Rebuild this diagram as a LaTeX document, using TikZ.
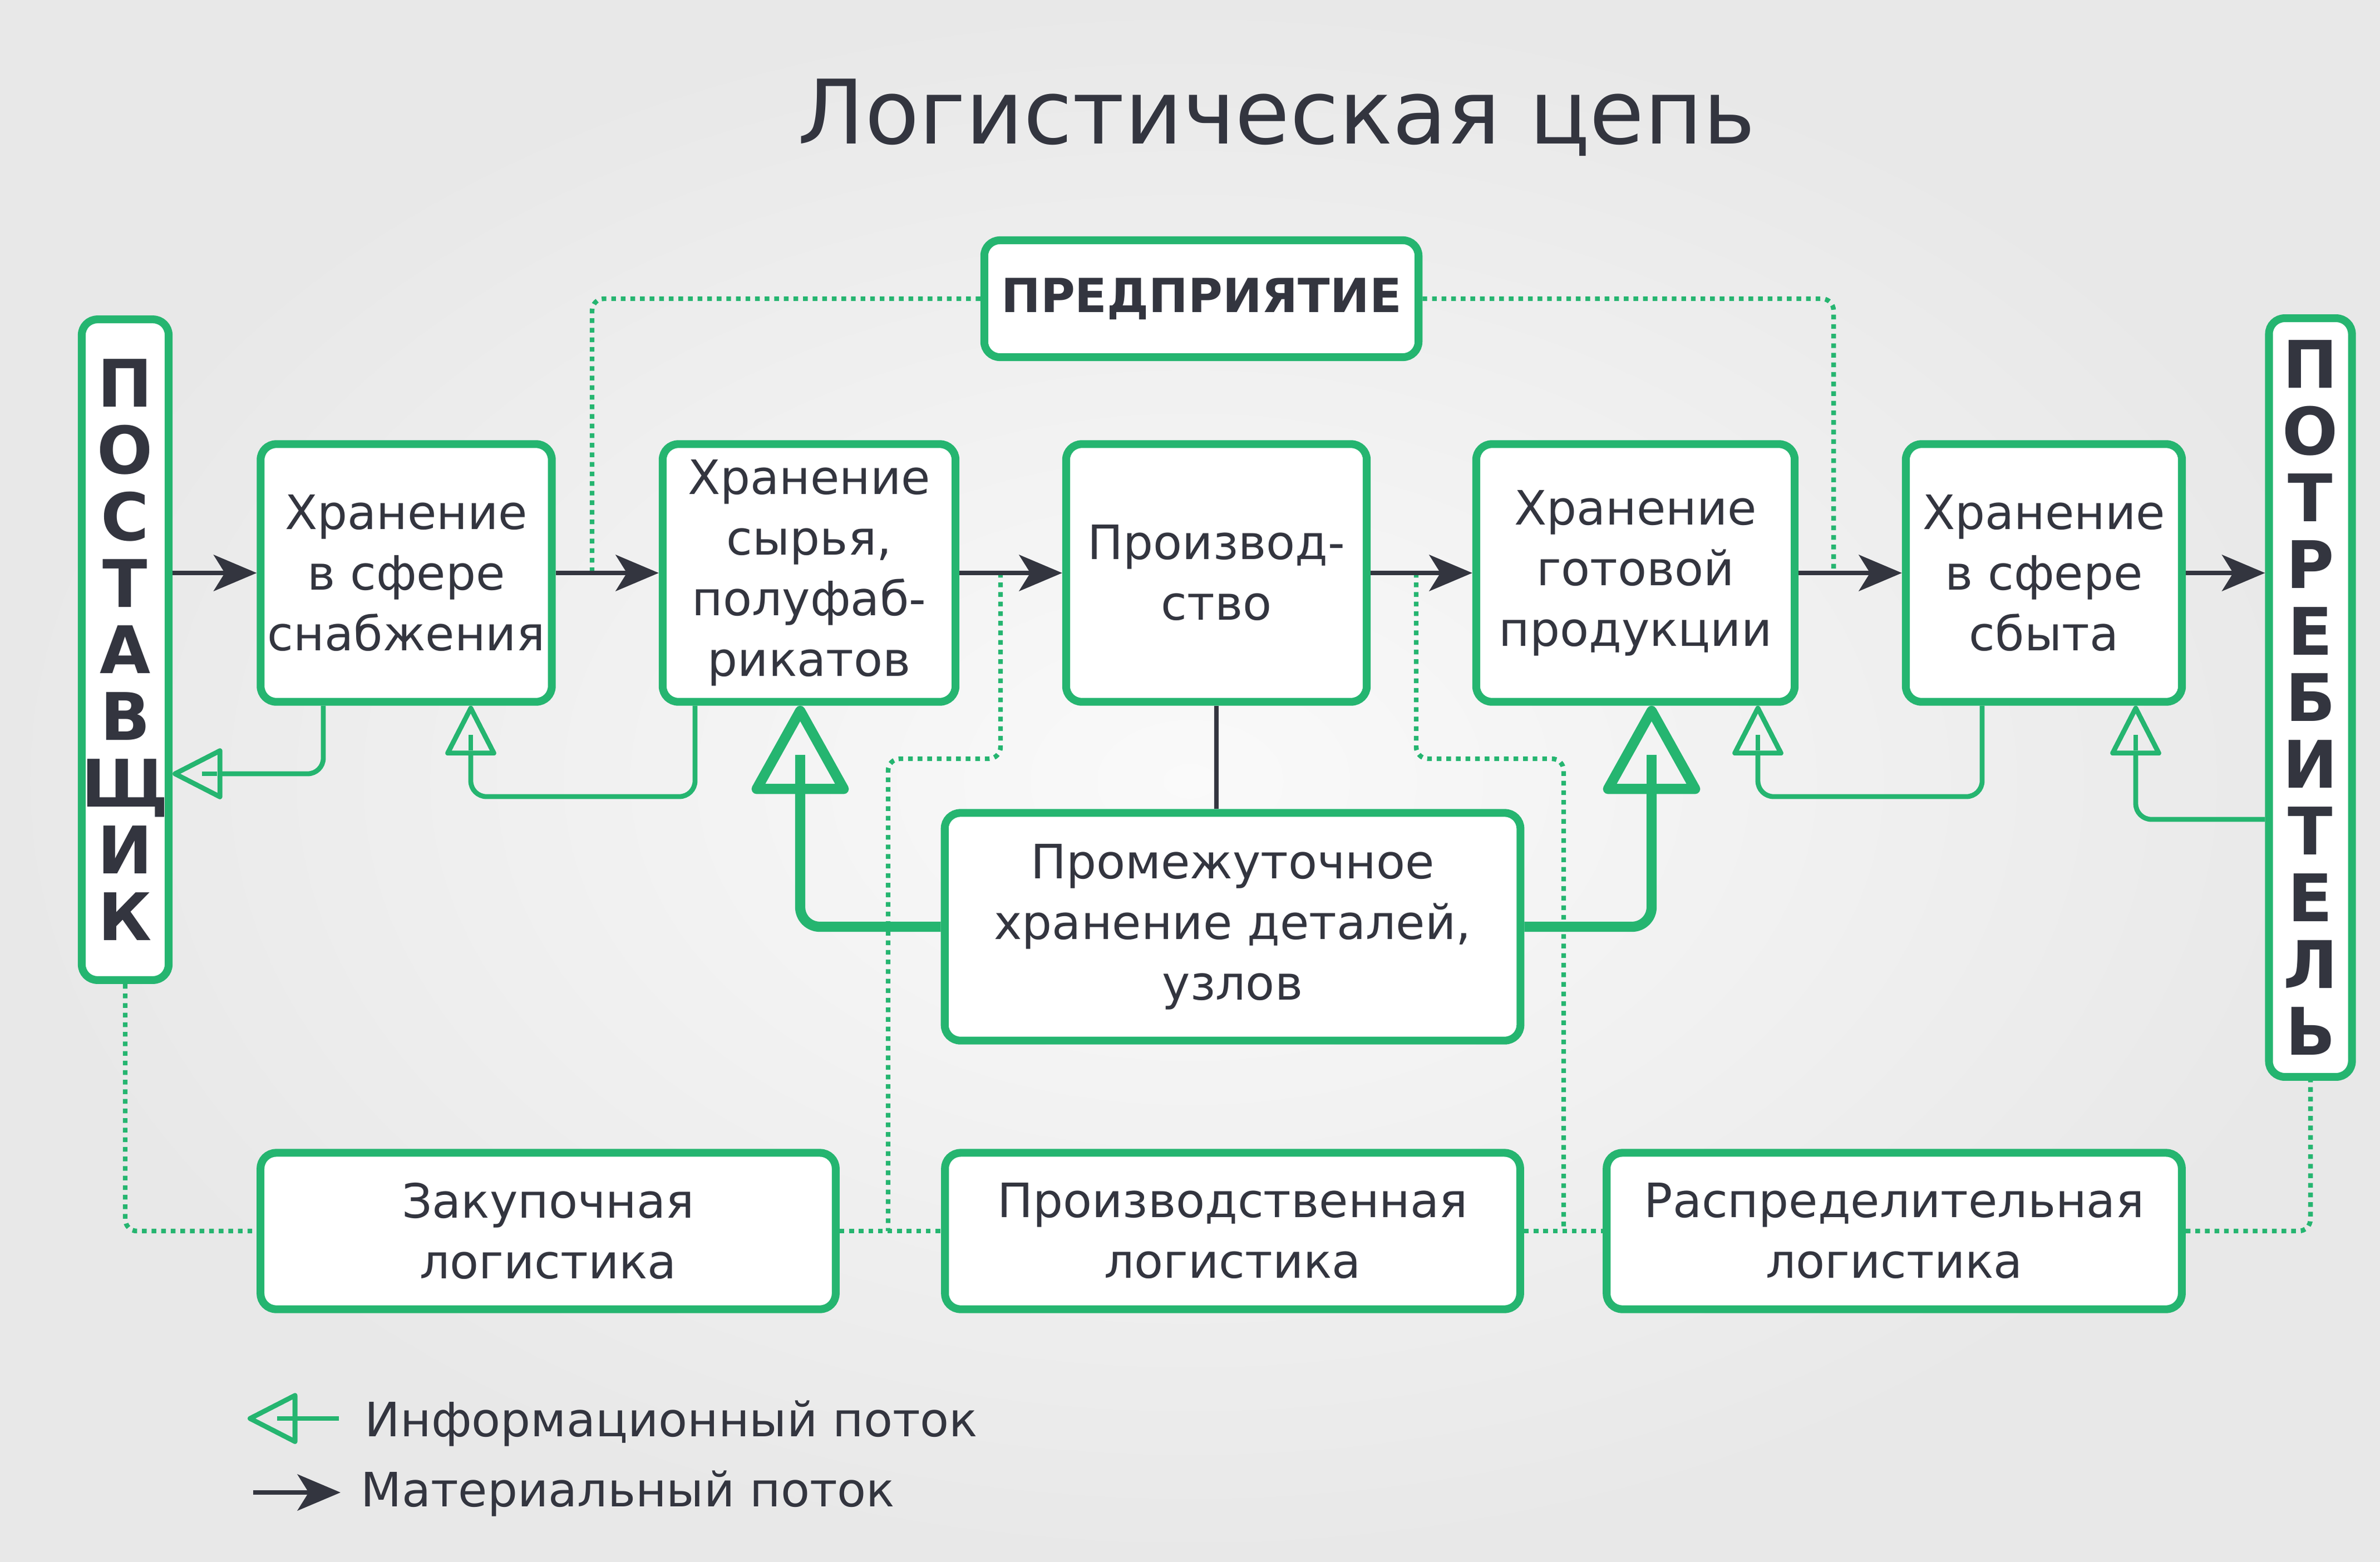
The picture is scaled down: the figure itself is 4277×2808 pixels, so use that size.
\documentclass[tikz,border=0pt]{standalone}
\usepackage{fontspec}
\setmainfont{DejaVu Sans}
\usepackage{xcolor}
\usepackage{tikz}
\usetikzlibrary{arrows.meta}

\definecolor{logGreen}{HTML}{25B570}
\definecolor{logDark}{HTML}{33353F}

\tikzset{
  box/.style={draw=logGreen, line width=4pt, fill=white, rounded corners=8pt,
    align=center, text=logDark, inner sep=0pt,
    font=\fontsize{24.2}{31}\selectfont},
  tallbox/.style={box, font=\bfseries\fontsize{33.5}{34.1}\selectfont},
  mat/.style={draw=logDark, line width=2.3pt,
    -{Stealth[length=22pt, width=18.5pt, inset=5.7pt]}},
  matline/.style={draw=logDark, line width=2.3pt},
  info/.style={draw=logGreen, line width=2.5pt, rounded corners=8pt,
    -{Triangle[open, length=27pt, width=27pt, round]}},
  infotail/.style={draw=logGreen, line width=2.5pt, shorten <=15pt},
  infobig/.style={draw=logGreen, line width=5.2pt, rounded corners=10pt,
    -{Triangle[open, length=48pt, width=52pt, round]}},
  bigtail/.style={draw=logGreen, line width=5.2pt, shorten <=25pt},
  dot/.style={draw=logGreen, line width=2.4pt, dash pattern=on 2.4pt off 2.5pt,
    rounded corners=6pt},
  legendtext/.style={anchor=base west, inner sep=0pt, text=logDark,
    font=\fontsize{24.2}{31}\selectfont}
}

\begin{document}
\begin{tikzpicture}[x=0.01cm, y=-0.01cm]
    % Background
    \useasboundingbox (0,0) rectangle (4277,2808);
    \shade[inner color=white!98!black, outer color=white!91!black] (0,0) rectangle (4277,2808);

    % Title
    \node (title) [anchor=base west, inner sep=0pt, text=logDark,
      font=\fontsize{45.5}{50}\selectfont] at (1433,258) {Логистическая цепь};

    % Supplier, consumer and enterprise
    \node (sup) [tallbox, minimum width=1.46cm, minimum height=11.87cm] at (225,1168)
      {П\\О\\С\\Т\\А\\В\\Щ\\И\\К};
    \node (cons) [tallbox, minimum width=1.49cm, minimum height=13.63cm] at (4152,1254)
      {П\\О\\Т\\Р\\Е\\Б\\И\\Т\\Е\\Л\\Ь};
    \node (ent) [box, font=\bfseries\fontsize{24}{31}\selectfont,
      minimum width=7.80cm, minimum height=2.10cm] at (2159,537) {ПРЕДПРИЯТИЕ};

    % Storage chain
    \node (st1) [box, minimum width=5.23cm, minimum height=4.63cm] at (730,1030)
      {Хранение\\в сфере\\снабжения};
    \node (st2) [box, minimum width=5.26cm, minimum height=4.63cm] at (1454,1030)
      {Хранение\\сырья,\\полуфаб-\\рикатов};
    \node (st3) [box, minimum width=5.40cm, minimum height=4.63cm] at (2186,1030)
      {Производ-\\ство};
    \node (st4) [box, minimum width=5.72cm, minimum height=4.63cm] at (2939,1030)
      {Хранение\\готовой\\продукции};
    \node (st5) [box, minimum width=4.96cm, minimum height=4.63cm] at (3673,1030)
      {Хранение\\в сфере\\сбыта};
    \node (mid) [box, minimum width=10.34cm, minimum height=4.09cm] at (2215,1666)
      {Промежуточное\\хранение деталей,\\узлов};

    % Logistics areas
    \node (lg1) [box, minimum width=10.33cm, minimum height=2.81cm] at (985,2213)
      {Закупочная\\логистика};
    \node (lg2) [box, minimum width=10.33cm, minimum height=2.81cm] at (2215,2213)
      {Производственная\\логистика};
    \node (lg3) [box, minimum width=10.33cm, minimum height=2.81cm] at (3404,2213)
      {Распределительная\\логистика};

    % Dotted links
    \draw[dot] (ent.west) -| (st1.east -| 1064,0);
    \draw[dot] (ent.east) -| (st4.east -| 3295,0);
    \draw[dot] (st2.east -| 1798,0) |- (1596,1364) -- (lg1.east -| 1596,0);
    \draw[dot] (st3.east -| 2545,0) |- (2810,1364) -- (lg2.east -| 2810,0);
    \draw[dot] (sup.south) |- (lg1.west);
    \draw[dot] (lg1.east) -- (lg2.west);
    \draw[dot] (lg2.east) -- (lg3.west);
    \draw[dot] (lg3.east) -| (cons.south);

    % Material flow
    \draw[mat] (sup.east |- st1.west) -- (st1.west);
    \draw[mat] (st1.east) -- (st2.west);
    \draw[mat] (st2.east) -- (st3.west);
    \draw[mat] (st3.east) -- (st4.west);
    \draw[mat] (st4.east) -- (st5.west);
    \draw[mat] (st5.east) -- (st5.east -| cons.west);
    \draw[matline] (st3.south) -- (st3.south |- mid.north);

    % Information flow
    \coordinate (h1) at (sup.east |- 0,1391);
    \coordinate (h2) at (st1.south -| 846,0);
    \coordinate (h3) at (st2.south -| 1438,0);
    \coordinate (h4) at (st4.south -| 2968,0);
    \coordinate (h5) at (st4.south -| 3159,0);
    \coordinate (h6) at (st5.south -| 3838,0);
    \draw[info] (st1.south -| 581,0) |- (h1);
    \draw[info] (st2.south -| 1249,0) |- (846,1432) -- (h2);
    \draw[infobig] (mid.west) -| (h3);
    \draw[infobig] (mid.east) -| (h4);
    \draw[info] (st5.south -| 3562,0) |- (3159,1432) -- (h5);
    \draw[info] (cons.west |- 0,1473) -| (h6);
    \draw[infotail] (h1) -- ++(80,0);
    \draw[infotail] (h2) -- ++(0,80);
    \draw[bigtail] (h3) -- ++(0,150);
    \draw[bigtail] (h4) -- ++(0,150);
    \draw[infotail] (h5) -- ++(0,80);
    \draw[infotail] (h6) -- ++(0,80);

    % Legend
    \coordinate (infoA) at (609,2550);
    \coordinate (infoB) at (445,2550);
    \coordinate (matA) at (455,2683);
    \coordinate (matB) at (612,2683);
    \draw[info] (infoA) -- (infoB);
    \draw[infotail] (infoB) -- (infoA);
    \draw[mat] (matA) -- (matB);
    \node (infoTxt) [legendtext] at (655,2582) {Информационный поток};
    \node (matTxt) [legendtext] at (648,2708) {Материальный поток};
\end{tikzpicture}
\end{document}
